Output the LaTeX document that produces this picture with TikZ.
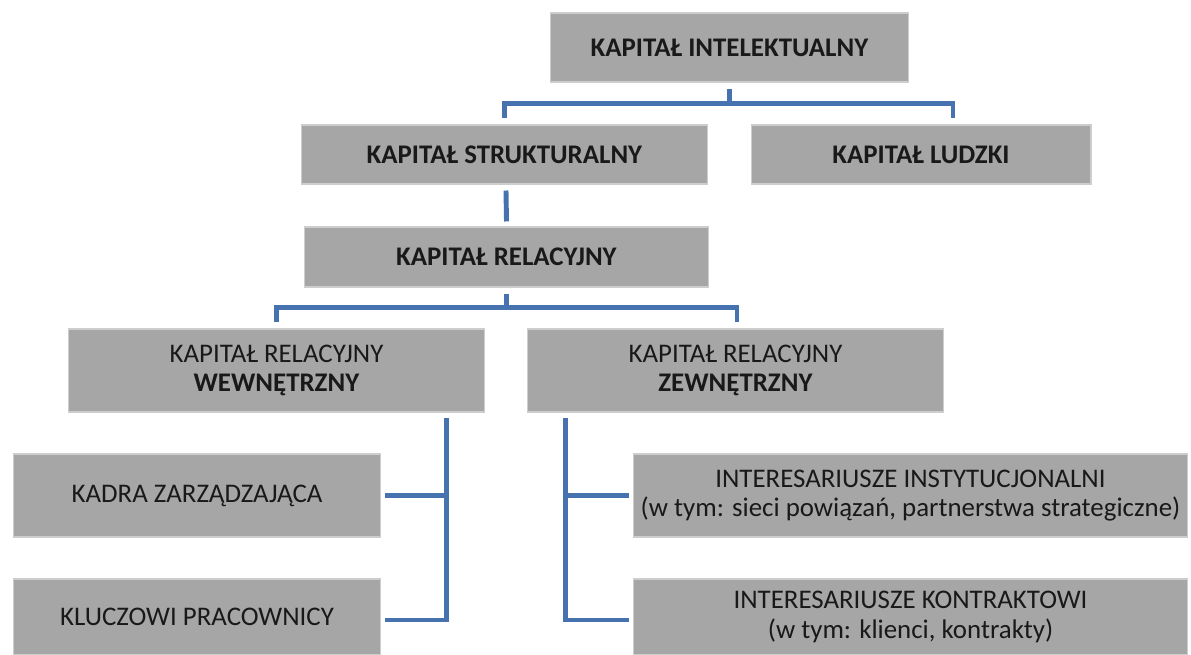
\documentclass[tikz,border=0pt]{standalone}
\usepackage{fontspec}
\setmainfont{Carlito}
\usetikzlibrary{calc}
\definecolor{boxgray}{RGB}{166,166,166}
\definecolor{boxedge}{RGB}{205,205,205}
\definecolor{linkblue}{RGB}{70,114,176}
\begin{document}
\begin{tikzpicture}[x=0.02cm,y=-0.02cm,
    box/.style={fill=boxgray,draw=boxedge,line width=0.6pt,inner sep=0pt,align=center,
      text=black!90,font=\fontsize{15.3}{16.8}\selectfont},
    link/.style={draw=linkblue,line width=2.8pt}]
  \useasboundingbox (0,0) rectangle (1191,655);
  % upper levels
  \node[box,minimum width=7.18cm,minimum height=1.38cm] (intel) at (729.5,47.5) {\textbf{KAPITAŁ INTELEKTUALNY}};
  \node[box,minimum width=8.14cm,minimum height=1.18cm] (strukt) at (504.5,154.5) {\textbf{KAPITAŁ STRUKTURALNY}};
  \node[box,minimum width=6.80cm,minimum height=1.18cm] (ludzki) at (921,154.5) {\textbf{KAPITAŁ LUDZKI}};
  \node[box,minimum width=8.10cm,minimum height=1.20cm] (relac) at (506.5,257) {\textbf{KAPITAŁ RELACYJNY}};
  \node[box,minimum width=8.34cm,minimum height=1.66cm] (wew) at (276.5,370.5) {KAPITAŁ RELACYJNY\\\textbf{WEWNĘTRZNY}};
  \node[box,minimum width=8.34cm,minimum height=1.66cm] (zew) at (735.5,370.5) {KAPITAŁ RELACYJNY\\\textbf{ZEWNĘTRZNY}};
  % lower level
  \node[box,minimum width=7.36cm,minimum height=1.66cm] (kadra) at (197,495.5) {KADRA ZARZĄDZAJĄCA};
  \node[box,minimum width=7.36cm,minimum height=1.52cm] (klucz) at (197,617) {KLUCZOWI PRACOWNICY};
  \node[box,minimum width=11.10cm,minimum height=1.66cm] (inst) at (910.5,495.5) {INTERESARIUSZE INSTYTUCJONALNI\\(w tym: sieci powiązań, partnerstwa strategiczne)};
  \node[box,minimum width=11.10cm,minimum height=1.52cm] (kontr) at (910.5,617) {INTERESARIUSZE KONTRAKTOWI\\(w tym: klienci, kontrakty)};
  % connectors
  \draw[link] ($(intel.south)+(0,6)$) -- ($(intel.south)+(0,22)$);
  \draw[link] ($(strukt.north)+(0,-6)$) |- ($(ludzki.north)+(32,-21)$) -- ($(ludzki.north)+(32,-6)$);
  \draw[link] ($(strukt.south)+(1.5,6)$) -- ($(relac.north)+(0,-5)$);
  \draw[link] ($(relac.south)+(0,6)$) -- ($(relac.south)+(0,21)$);
  \draw[link] ($(wew.north)+(0,-6)$) |- ($(zew.north)+(1.5,-21)$) -- ($(zew.north)+(1.5,-6)$);
  \coordinate (wtop) at ($(wew.south east)+(-39,5)$);
  \coordinate (ztop) at ($(zew.south west)+(39,5)$);
  \draw[link] (wtop) |- ($(klucz.east)+(4,3)$);
  \draw[link] ($(kadra.east)+(4,0)$) -- (wtop |- kadra.east);
  \draw[link] (ztop) |- ($(kontr.west)+(-4,3)$);
  \draw[link] ($(inst.west)+(-4,0)$) -- (ztop |- inst.west);
\end{tikzpicture}
\end{document}
